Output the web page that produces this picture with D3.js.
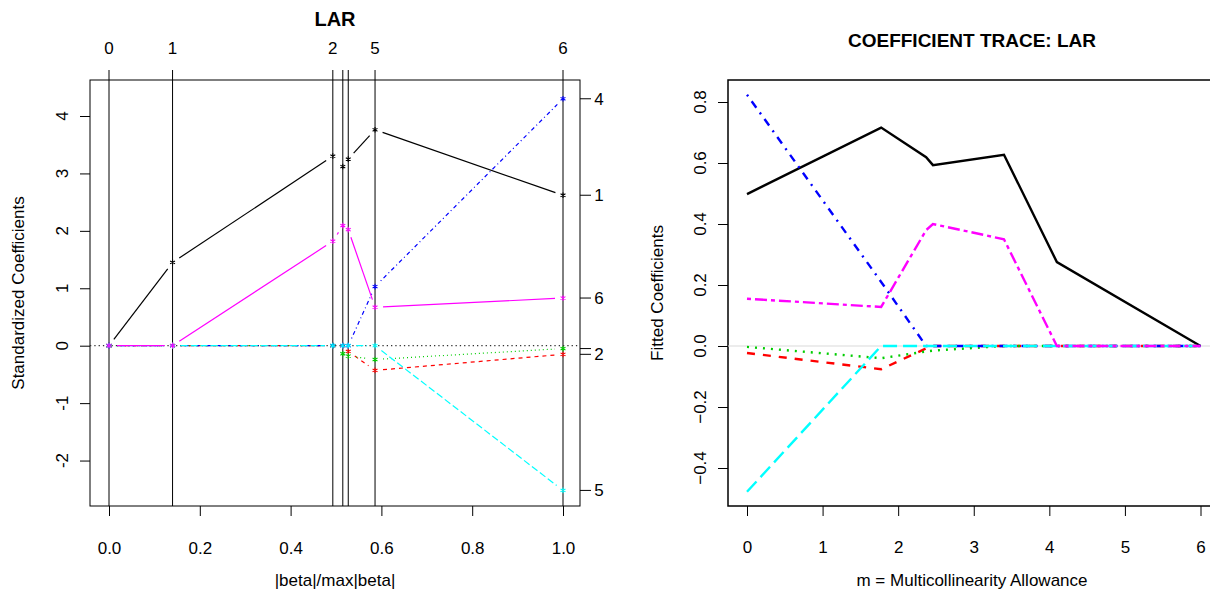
<!DOCTYPE html>
<html>
<head>
<meta charset="utf-8">
<script src="https://cdn.jsdelivr.net/npm/d3@7"></script>
<style>
body { margin:0; background:#fff; }
text { font-family: "Liberation Sans", Arial, sans-serif; }
</style>
</head>
<body>
<div id="Container"></div>
<script>
// ---- data: left panel (LAR path, standardized coefs) ----
var larSteps = [0, 0.14, 0.493, 0.515, 0.527, 0.586, 1.0];
var stepLabels = ["0","1","2","3","4","5","6"];
var varLabels = ["1","2","3","4","5","6"];
var std1 = [0, 1.45, 3.30, 3.12, 3.25, 3.76, 2.62];
var std2 = [0, 0, 0, 0, -0.10, -0.43, -0.15];
var std3 = [0, 0, 0, -0.14, -0.18, -0.24, -0.05];
var std4 = [0, 0, 0, 0, 0, 1.03, 4.30];
var std5 = [0, 0, 0, 0, 0, 0, -2.52];
var std6 = [0, 0, 1.82, 2.09, 2.02, 0.67, 0.83];
var leftXTicks = [0, 0.2, 0.4, 0.6, 0.8, 1.0];
var leftYTicks = [-2, -1, 0, 1, 2, 3, 4];

// ---- data: right panel (coefficient trace) ----
var mSteps = [0, 1.775, 2.37, 2.46, 3.40, 4.10, 6];
var fit1 = [0.498, 0.716, 0.619, 0.593, 0.627, 0.275, 0];
var fit2 = [-0.023, -0.076, -0.008, 0, 0, 0, 0];
var fit3 = [-0.003, -0.04, -0.018, -0.015, 0, 0, 0];
var fit4 = [0.824, 0.21, 0, 0, 0, 0, 0];
var fit5 = [-0.478, 0, 0, 0, 0, 0, 0];
var fit6 = [0.155, 0.128, 0.38, 0.4, 0.35, 0, 0];
var rightXTicks = [0, 1, 2, 3, 4, 5, 6];
var rightYTicks = [-0.4, -0.2, 0.0, 0.2, 0.4, 0.6, 0.8];

var cols = ["black", "#FF0000", "#00CD00", "#0000FF", "#00FFFF", "#FF00FF"];
var dashL = [null, "4,4", "1,3", "1,3,4,3", "7,3", null];
var dashR = [null, "8,8", "2,6", "2,6,8,6", "14,6", "4,4,12,4"];

var W = 1210, H = 593, fs = 17;
var canvas = d3.select("#Container").append("svg")
    .attr("width", W).attr("height", H);

// ================= LEFT PANEL =================
var boxL = {x0: 90, x1: 580, y0: 80, y1: 506};
var xL = d3.scaleLinear().domain([0, 1]).range([109, 563]);
var yL = d3.scaleLinear().domain([0, 4]).range([345.7, 116]);
var leftG = canvas.append("g");

leftG.append("rect")
    .attr("x", boxL.x0).attr("y", boxL.y0)
    .attr("width", boxL.x1 - boxL.x0).attr("height", boxL.y1 - boxL.y0)
    .attr("fill", "none").attr("stroke", "black").attr("stroke-width", 1);

// vertical step lines + top axis ticks
leftG.selectAll("vline").data(larSteps).enter().append("line")
    .attr("x1", function(d){ return xL(d); }).attr("x2", function(d){ return xL(d); })
    .attr("y1", boxL.y0 - 10).attr("y2", boxL.y1)
    .attr("stroke", "black").attr("stroke-width", 1);

// top labels, dropping overlapping ones like R does
var lastX = -100;
larSteps.forEach(function(s, i) {
    var px = xL(s);
    if (px - lastX < 22) return;
    lastX = px;
    leftG.append("text").attr("x", px).attr("y", 54)
        .attr("text-anchor", "middle").attr("font-size", fs).text(stepLabels[i]);
});

// horizontal dotted zero line
leftG.append("line")
    .attr("x1", boxL.x0).attr("x2", boxL.x1)
    .attr("y1", yL(0)).attr("y2", yL(0))
    .attr("stroke", "#333").attr("stroke-width", 1.3).attr("stroke-dasharray", "1.3,3");

// bottom axis
leftG.append("g").attr("transform", "translate(0," + boxL.y1 + ")")
    .call(d3.axisBottom(xL).tickValues(leftXTicks).tickSize(10).tickPadding(0).tickFormat(d3.format(".1f")))
    .call(function(g){ g.select(".domain").remove(); })
    .call(function(g){ g.selectAll("text").attr("font-size", fs).attr("dy", 0).attr("y", 48).attr("font-family", null); });

// left axis (rotated labels)
var ayL = leftG.append("g").attr("transform", "translate(" + boxL.x0 + ",0)")
    .call(d3.axisLeft(yL).tickValues(leftYTicks).tickSize(10).tickFormat(d3.format("d")));
ayL.select(".domain").remove();
ayL.selectAll("text").remove();
leftYTicks.forEach(function(t) {
    leftG.append("text")
        .attr("transform", "translate(" + 68 + "," + yL(t) + ") rotate(-90)")
        .attr("text-anchor", "middle").attr("font-size", fs).text(t);
});

// series with type="b" gaps and star points
var stdAll = [std1, std2, std3, std4, std5, std6];
var gap = 8;
stdAll.forEach(function(vals, k) {
    var pts = larSteps.map(function(s, i){ return [xL(s), yL(vals[i])]; });
    for (var i = 0; i < pts.length - 1; i++) {
        var a = pts[i], b = pts[i+1];
        var dx = b[0]-a[0], dy = b[1]-a[1], len = Math.sqrt(dx*dx+dy*dy);
        if (len <= 2*gap) continue;
        var ux = dx/len, uy = dy/len;
        leftG.append("line")
            .attr("x1", a[0]+ux*gap).attr("y1", a[1]+uy*gap)
            .attr("x2", b[0]-ux*gap).attr("y2", b[1]-uy*gap)
            .attr("stroke", cols[k]).attr("stroke-width", 1.2)
            .attr("stroke-dasharray", dashL[k]);
    }
    leftG.selectAll("star" + k).data(pts).enter().append("path")
        .attr("transform", function(d){ return "translate(" + d[0] + "," + d[1] + ")"; })
        .attr("d", d3.symbol(d3.symbolAsterisk, 22))
        .attr("fill", "none").attr("stroke", cols[k]).attr("stroke-width", 1.1);
});

// right axis: final coefficient of each variable
var finals = stdAll.map(function(v, k){ return {y: yL(v[v.length-1]), lab: varLabels[k]}; });
finals.forEach(function(f) {
    leftG.append("line").attr("x1", boxL.x1).attr("x2", boxL.x1 + 11)
        .attr("y1", f.y).attr("y2", f.y).attr("stroke", "black");
});
var shown = [];
finals.forEach(function(f) {
    var clash = shown.some(function(y){ return Math.abs(y - f.y) < 14; });
    if (clash) return;
    shown.push(f.y);
    leftG.append("text").attr("x", 599).attr("y", f.y + 6)
        .attr("text-anchor", "middle").attr("font-size", fs).text(f.lab);
});

leftG.append("text").attr("x", 335).attr("y", 26)
    .attr("text-anchor", "middle").attr("font-size", 20).attr("font-weight", "bold").text("LAR");
leftG.append("text").attr("x", 335).attr("y", 586)
    .attr("text-anchor", "middle").attr("font-size", fs).text("|beta|/max|beta|");
leftG.append("text").attr("transform", "translate(24,293) rotate(-90)")
    .attr("text-anchor", "middle").attr("font-size", fs).text("Standardized Coefficients");

// ================= RIGHT PANEL =================
var boxR = {x0: 728, x1: 1216, y0: 80, y1: 506};
var xR = d3.scaleLinear().domain([0, 6]).range([747, 1200.5]);
var yR = d3.scaleLinear().domain([0, 0.8]).range([346, 102]);
var rightG = canvas.append("g");

rightG.append("rect")
    .attr("x", boxR.x0).attr("y", boxR.y0)
    .attr("width", boxR.x1 - boxR.x0).attr("height", boxR.y1 - boxR.y0)
    .attr("fill", "none").attr("stroke", "black").attr("stroke-width", 1.5);

rightG.append("line")
    .attr("x1", boxR.x0).attr("x2", boxR.x1)
    .attr("y1", yR(0)).attr("y2", yR(0))
    .attr("stroke", "#d9d9d9").attr("stroke-width", 1);

rightG.append("g").attr("transform", "translate(0," + boxR.y1 + ")")
    .call(d3.axisBottom(xR).tickValues(rightXTicks).tickSize(10).tickFormat(d3.format("d")))
    .call(function(g){ g.select(".domain").remove(); })
    .call(function(g){ g.selectAll("text").attr("font-size", fs).attr("dy", 0).attr("y", 47).attr("font-family", null); });

var ayR = rightG.append("g").attr("transform", "translate(" + boxR.x0 + ",0)")
    .call(d3.axisLeft(yR).tickValues(rightYTicks).tickSize(10));
ayR.select(".domain").remove();
ayR.selectAll("text").remove();
rightYTicks.forEach(function(t) {
    rightG.append("text")
        .attr("transform", "translate(" + 706 + "," + yR(t) + ") rotate(-90)")
        .attr("text-anchor", "middle").attr("font-size", fs).text(d3.format(".1f")(t));
});

var fitAll = [fit1, fit2, fit3, fit4, fit5, fit6];
var lineR = d3.line().x(function(d){ return xR(d[0]); }).y(function(d){ return yR(d[1]); });
fitAll.forEach(function(vals, k) {
    rightG.append("path")
        .attr("d", lineR(mSteps.map(function(m, i){ return [m, vals[i]]; })))
        .attr("fill", "none").attr("stroke", cols[k]).attr("stroke-width", 2.4)
        .attr("stroke-dasharray", dashR[k]);
});

rightG.append("text").attr("x", 972).attr("y", 47)
    .attr("text-anchor", "middle").attr("font-size", 19).attr("font-weight", "bold").text("COEFFICIENT TRACE: LAR");
rightG.append("text").attr("x", 972).attr("y", 586)
    .attr("text-anchor", "middle").attr("font-size", fs).text("m = Multicollinearity Allowance");
rightG.append("text").attr("transform", "translate(663,293) rotate(-90)")
    .attr("text-anchor", "middle").attr("font-size", fs).text("Fitted Coefficients");
</script>
</body>
</html>
